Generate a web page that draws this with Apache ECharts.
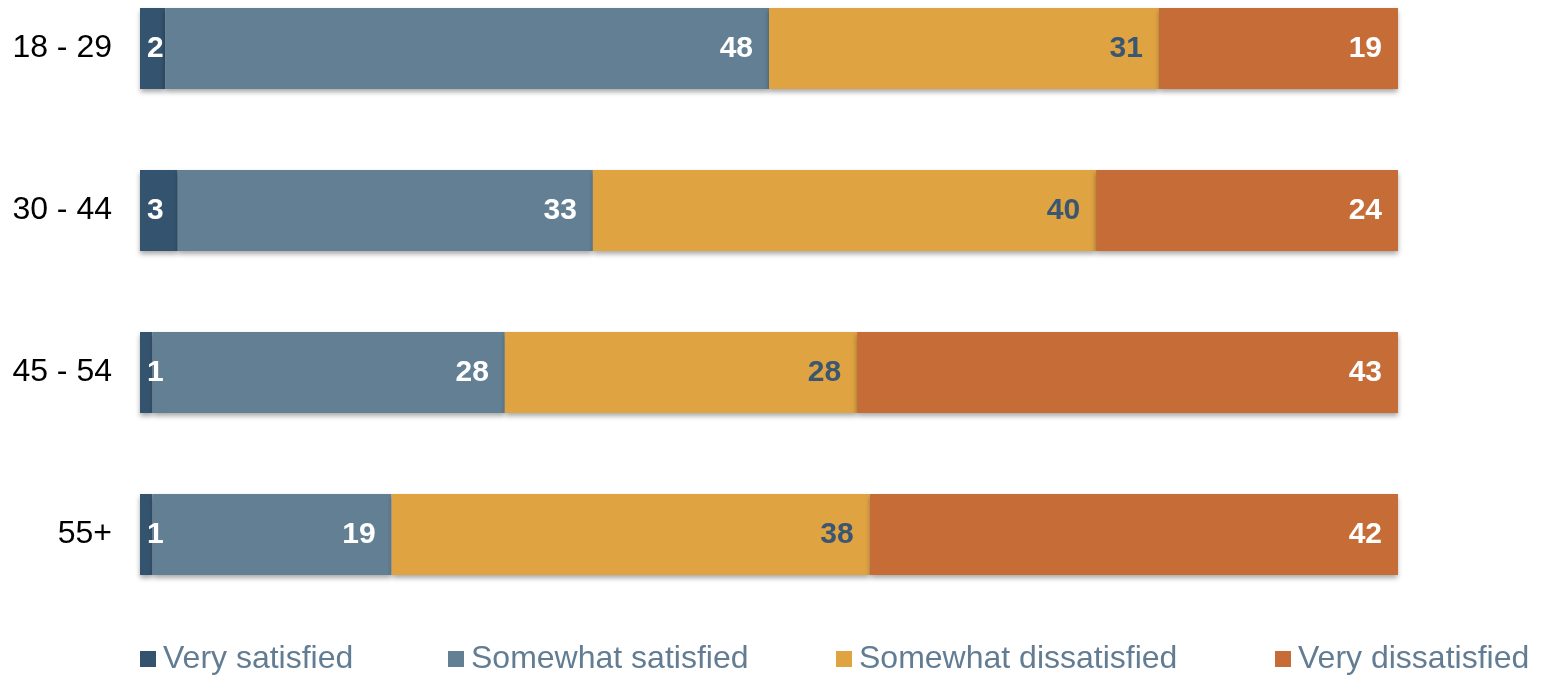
<!DOCTYPE html>
<html><head><meta charset="utf-8">
<script src="https://cdn.jsdelivr.net/npm/echarts@6/dist/echarts.min.js"></script>
<style>html,body{margin:0;padding:0;background:#fff}#c{width:1541px;height:677px}</style>
</head><body><div id="c"></div>
<script>
const categories = ['18 - 29', '30 - 44', '45 - 54', '55+'];
const seriesNames = ['Very satisfied', 'Somewhat satisfied', 'Somewhat dissatisfied', 'Very dissatisfied'];
const verySatisfied = [2, 3, 1, 1];
const somewhatSatisfied = [48, 33, 28, 19];
const somewhatDissatisfied = [31, 40, 28, 38];
const veryDissatisfied = [19, 24, 43, 42];

const values = [verySatisfied, somewhatSatisfied, somewhatDissatisfied, veryDissatisfied];
const colors = ['#34536e', '#637f94', '#dfa342', '#c66c36'];
const labelColors = ['#ffffff', '#ffffff', '#3a5670', '#ffffff'];
const legendLeft = [140, 448, 836, 1275];

const chart = echarts.init(document.getElementById('c'));
const series = values.map((arr, i) => ({
  name: seriesNames[i],
  type: 'bar',
  stack: 'total',
  barCategoryGap: '50%',
  itemStyle: { color: colors[i], shadowColor: 'rgba(0,0,0,0.35)', shadowBlur: 5, shadowOffsetY: 3 },
  label: {
    show: true,
    position: 'insideRight',
    distance: 16,
    color: labelColors[i],
    fontFamily: 'Liberation Sans, Arial, sans-serif',
    fontWeight: 'bold',
    fontSize: 30
  },
  data: arr.map(v => v < 5 ? { value: v, label: { position: 'insideLeft', distance: 7 } } : v)
}));

chart.setOption({
  animation: false,
  grid: { left: 140, right: 143, top: -32.5, height: 648, containLabel: false, outerBoundsMode: 'none' },
  xAxis: { type: 'value', min: 0, max: 100, show: false },
  yAxis: {
    type: 'category', data: categories, inverse: true,
    axisLine: { show: false }, axisTick: { show: false }, splitLine: { show: false },
    axisLabel: { color: '#000', fontSize: 32, margin: 28, fontFamily: 'Liberation Sans, Arial, sans-serif' }
  },
  legend: seriesNames.map((n, i) => ({
    data: [n], left: legendLeft[i], top: 643, padding: 0,
    itemWidth: 16, itemHeight: 16, icon: 'rect', itemGap: 0,
    textStyle: { color: '#627d93', fontSize: 32, fontFamily: 'Liberation Sans, Arial, sans-serif', padding: [0, 0, 0, 2] },
    selectedMode: false
  })),
  series
});
</script></body></html>
